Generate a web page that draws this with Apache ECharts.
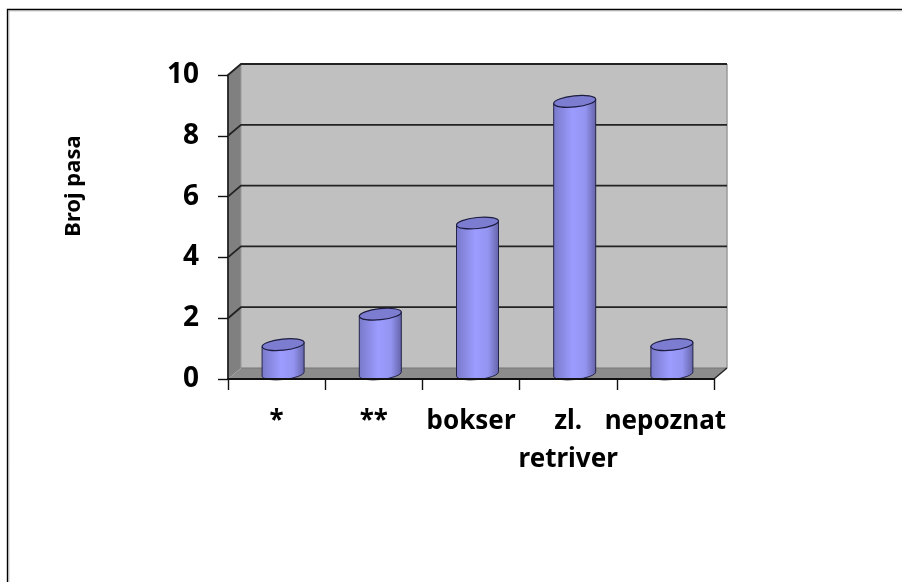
<!DOCTYPE html>
<html>
<head>
<meta charset="utf-8">
<style>
  html, body { margin: 0; padding: 0; background: #fff; }
  #chart { width: 902px; height: 582px; }
</style>
<script src="https://cdn.jsdelivr.net/npm/echarts@6/dist/echarts.min.js"></script>
</head>
<body>
<div id="chart"></div>
<script>
const categories = ['*', '**', 'bokser', 'zl.\nretriver', 'nepoznat'];
const counts = [1, 2, 5, 9, 1];
const gridValues = [2, 4, 6, 8];
const yAxisTitle = 'Broj pasa';

// pseudo 3D depth of the box, in pixels
const depthX = 13;
const depthY = -11;
const labelFont = '"Noto Sans", sans-serif';

const chart = echarts.init(document.getElementById('chart'));

function renderBox(params, api) {
  const r = params.coordSys;
  const left = r.x, right = r.x + r.width, top = r.y, bottom = r.y + r.height;
  const poly = (points, style) => ({ type: 'polygon', shape: { points }, style });
  const line = (points, stroke, lineWidth) => ({
    type: 'polyline', shape: { points }, style: { stroke, lineWidth, fill: null }
  });
  const children = [
    poly([[left + depthX, top + depthY], [right + depthX, top + depthY], [right + depthX, bottom + depthY], [left + depthX, bottom + depthY]], { fill: '#c0c0c0' }),
    poly([[left, top], [left + depthX, top + depthY], [left + depthX, bottom + depthY], [left, bottom]], { fill: '#808080' }),
    poly([[left, bottom], [left + depthX, bottom + depthY], [right + depthX, bottom + depthY], [right, bottom]], { fill: '#8c8c8c' }),
    line([[right + depthX, top + depthY], [right + depthX, bottom + depthY]], '#9a9a9a', 1.5),
    line([[left + depthX, top + depthY], [left + depthX, bottom + depthY]], '#9a9a9a', 1),
    line([[left + depthX, bottom + depthY], [right + depthX, bottom + depthY]], '#777', 1),
    line([[left, top], [left + depthX, top + depthY], [right + depthX, top + depthY]], '#222', 1.8),
    line([[right, bottom], [right + depthX, bottom + depthY]], '#222', 1.4)
  ];
  gridValues.forEach(v => {
    const y = api.coord([0, v])[1];
    children.push(line([[left, y], [left + depthX, y + depthY], [right + depthX, y + depthY]], '#222', 1.8));
  });
  return { type: 'group', children };
}

function renderCylinder(params, api) {
  const center = api.coord([api.value(0), 0])[0] + depthX / 2;
  const topY = api.coord([api.value(0), api.value(1)])[1] - 4;
  const baseY = api.coord([api.value(0), 0])[1] - 5;
  const rx = 21, ry = 5.5, tilt = 6;
  const dy = rx * Math.sin(tilt * Math.PI / 180);
  const l = center - rx, rr = center + rx;
  const body = `M${l} ${topY + dy}L${l} ${baseY + dy}A${rx} ${ry} ${-tilt} 0 0 ${rr} ${baseY - dy}L${rr} ${topY - dy}Z`;
  const cap = `M${l} ${topY + dy}A${rx} ${ry} ${-tilt} 0 1 ${rr} ${topY - dy}A${rx} ${ry} ${-tilt} 0 1 ${l} ${topY + dy}Z`;
  return {
    type: 'group',
    children: [
      {
        type: 'path',
        shape: { pathData: body },
        style: {
          fill: new echarts.graphic.LinearGradient(0, 0, 1, 0, [
            { offset: 0, color: '#7878c8' },
            { offset: 0.45, color: '#9c9cff' },
            { offset: 0.75, color: '#9393f0' },
            { offset: 1, color: '#6262a6' }
          ]),
          stroke: '#24244a',
          lineWidth: 1
        }
      },
      {
        type: 'path',
        shape: { pathData: cap },
        style: { fill: '#7c7cd0', stroke: '#1c1c40', lineWidth: 1.2 }
      }
    ]
  };
}

chart.setOption({
  animation: false,
  backgroundColor: '#fff',
  textStyle: { fontFamily: labelFont },
  grid: { left: 228, right: 188, top: 75, bottom: 203 },
  xAxis: {
    type: 'category',
    data: categories,
    z: 10,
    axisLine: { lineStyle: { color: '#111', width: 1.8 } },
    axisTick: { show: true, length: 11, alignWithLabel: false, lineStyle: { color: '#111', width: 1.4 } },
    axisLabel: {
      interval: 0,
      margin: 24,
      color: '#000',
      fontSize: 26,
      fontWeight: 'bold',
      fontFamily: labelFont,
      lineHeight: 38,
      hideOverlap: false
    }
  },
  yAxis: {
    type: 'value',
    min: 0,
    max: 10,
    interval: 2,
    z: 10,
    splitLine: { show: false },
    axisLine: { show: true, lineStyle: { color: '#222', width: 1.8 } },
    axisTick: { show: true, length: 10, lineStyle: { color: '#111', width: 1.4 } },
    axisLabel: { margin: 29, color: '#000', fontSize: 28, fontWeight: 'bold', fontFamily: labelFont }
  },
  graphic: [
    {
      type: 'polyline',
      shape: { points: [[7.5, 582], [7.5, 9.5], [902, 9.5]] },
      style: { stroke: '#000', lineWidth: 1.4, fill: null }
    },
    {
      type: 'polyline',
      shape: { points: [[8.8, 582], [8.8, 10.8], [902, 10.8]] },
      style: { stroke: '#aaa', lineWidth: 1, fill: null }
    },
    {
      type: 'text',
      x: 74,
      y: 186,
      rotation: Math.PI / 2,
      style: {
        text: yAxisTitle,
        fill: '#000',
        font: 'bold 22px "Noto Sans", sans-serif',
        align: 'center',
        verticalAlign: 'middle'
      }
    }
  ],
  series: [
    { type: 'custom', renderItem: renderBox, data: [0], z: 1, silent: true, clip: false },
    { type: 'custom', renderItem: renderCylinder, data: counts.map((v, i) => [i, v]), z: 2, silent: true, clip: false }
  ]
});
</script>
</body>
</html>
